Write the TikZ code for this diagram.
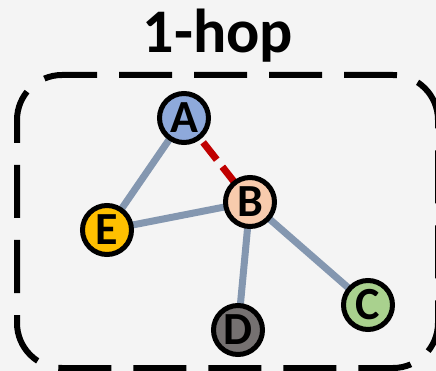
\documentclass[tikz,border=0pt]{standalone}
\usepackage{fontspec}
\setmainfont{Carlito}
\usetikzlibrary{positioning, backgrounds}

\definecolor{bgcol}{HTML}{F4F4F4}
\definecolor{edgecol}{HTML}{8497B0}
\definecolor{hopcol}{HTML}{C00000}
\definecolor{acol}{HTML}{8EA9DB}
\definecolor{bcol}{HTML}{F8CBAD}
\definecolor{ccol}{HTML}{A9D18E}
\definecolor{dcol}{HTML}{757171}
\definecolor{ecol}{HTML}{FFC000}

\begin{document}
\begin{tikzpicture}[x=1pt, y=-1pt,
    vertex/.style={circle, draw=black, line width=5pt, minimum size=49pt, inner sep=0pt,
      font=\fontsize{46}{46}\selectfont\bfseries},
    link/.style={draw=edgecol, line width=7pt},
    hoplink/.style={draw=hopcol, line width=7pt, dash pattern=on 22pt off 9pt}]
      \useasboundingbox (0,0) rectangle (436,371);

      % Title and neighbourhood frame
      \node[anchor=base, font=\fontsize{62}{62}\selectfont\bfseries] (title) at (218,53) {1-hop};
      \draw[line width=6pt, rounded corners=45pt, dash pattern=on 53pt off 22pt, dash phase=30pt]
        (17,75) rectangle (438,368);

      % Vertices
      \node[vertex, fill=acol] (A) at (184,118) {A};
      \node[vertex, fill=bcol] (B) at (250,202) {B};
      \node[vertex, fill=ccol] (C) at (368,305) {C};
      \node[vertex, fill=dcol] (D) at (238,330) {D};
      \node[vertex, fill=ecol] (E) at (107,230) {E};

      % Edges, behind the vertices
      \begin{scope}[on background layer]
        \fill[bgcol] (0,0) rectangle (436,371);
        \path[link] (A.center) -- (E.center);
        \path[link] (E.center) -- (B.center);
        \path[link] (B.center) -- (D.center);
        \path[link] (B.center) -- (C.center);
        \path[hoplink] (A.center) -- (B.center);
      \end{scope}
\end{tikzpicture}
\end{document}
